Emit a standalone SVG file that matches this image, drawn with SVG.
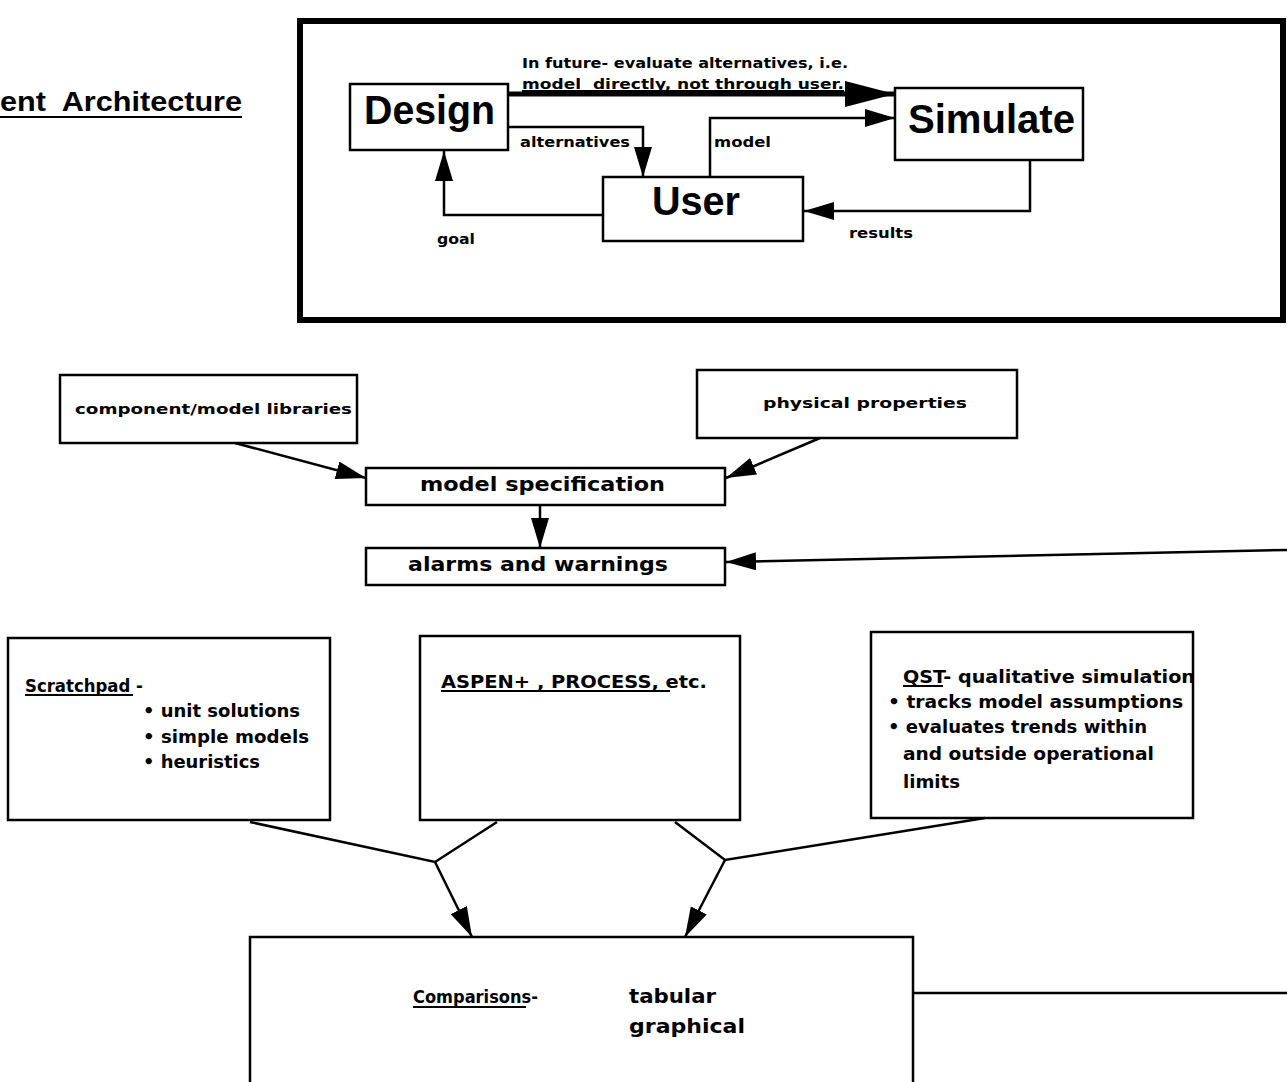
<svg xmlns="http://www.w3.org/2000/svg" width="1287" height="1082" viewBox="0 0 1287 1082">
<style>
.box{fill:#fff;stroke:#000;stroke-width:2.5}
.big{font-family:"Liberation Sans",Arial,sans-serif;font-weight:bold;font-size:40px;fill:#000}
.sm{font-family:"DejaVu Sans","Liberation Sans",sans-serif;font-weight:bold;font-size:14px;fill:#000}
.md{font-family:"DejaVu Sans","Liberation Sans",sans-serif;font-weight:bold;font-size:17px;fill:#000}
.lg{font-family:"DejaVu Sans","Liberation Sans",sans-serif;font-weight:bold;font-size:20px;fill:#000}
.ttl{font-family:"Liberation Sans",Arial,sans-serif;font-weight:bold;font-size:28px;fill:#000}
.c{fill:none;stroke:#000;stroke-width:2.5}
.u{stroke:#000;stroke-width:2}
</style>
<defs>
<marker id="ah" markerUnits="userSpaceOnUse" markerWidth="30" markerHeight="18" refX="30" refY="9" orient="auto" viewBox="0 0 30 18">
<path d="M0,0 L30,9 L0,18 z" fill="#000"/>
</marker>
<marker id="ahb" markerUnits="userSpaceOnUse" markerWidth="50" markerHeight="26" refX="50" refY="13" orient="auto" viewBox="0 0 50 26">
<path d="M0,0 L50,13 L0,26 z" fill="#000"/>
</marker>
</defs>

<g id="title">
<text class="ttl" x="0" y="111" textLength="242" lengthAdjust="spacingAndGlyphs" xml:space="preserve">ent  Architecture</text>
<line class="u" x1="0" y1="117" x2="242" y2="117"/>
</g>

<g id="frame">
<rect x="300" y="21" width="983" height="299" fill="none" stroke="#000" stroke-width="6"/>
</g>

<g id="connectors">
<line x1="508" y1="94" x2="895" y2="94" stroke="#000" stroke-width="5" marker-end="url(#ahb)"/>
<polyline class="c" points="710,177 710,118 895,118" marker-end="url(#ah)"/>
<polyline class="c" points="508,127 643,127 643,177" marker-end="url(#ah)"/>
<polyline class="c" points="603,215 444,215 444,151" marker-end="url(#ah)"/>
<polyline class="c" points="1030,160 1030,211 804,211" marker-end="url(#ah)"/>
<line class="c" x1="235" y1="443" x2="366" y2="478" marker-end="url(#ah)"/>
<line class="c" x1="820" y1="438" x2="726" y2="478" marker-end="url(#ah)"/>
<line class="c" x1="540" y1="505" x2="540" y2="548" marker-end="url(#ah)"/>
<line class="c" x1="1287" y1="550" x2="726" y2="562" marker-end="url(#ah)"/>
<polyline class="c" points="250,822 435,862 497,822"/>
<line class="c" x1="435" y1="862" x2="472" y2="937" marker-end="url(#ah)"/>
<polyline class="c" points="675,822 725,860 985,818"/>
<line class="c" x1="725" y1="860" x2="685" y2="937" marker-end="url(#ah)"/>
<line class="c" x1="913" y1="993" x2="1287" y2="993"/>
</g>

<g id="labels">
<text class="sm" x="522" y="68" textLength="326" lengthAdjust="spacingAndGlyphs">In future- evaluate alternatives, i.e.</text>
<text class="sm" x="522" y="89" textLength="322" lengthAdjust="spacingAndGlyphs" xml:space="preserve">model  directly, not through user.</text>
<line class="u" x1="522" y1="91" x2="844" y2="91"/>
<text class="sm" x="520" y="147" textLength="110" lengthAdjust="spacingAndGlyphs">alternatives</text>
<text class="sm" x="714" y="147" textLength="57" lengthAdjust="spacingAndGlyphs">model</text>
<text class="sm" x="437" y="244" textLength="38" lengthAdjust="spacingAndGlyphs">goal</text>
<text class="sm" x="849" y="238" textLength="64" lengthAdjust="spacingAndGlyphs">results</text>
</g>

<g id="design">
<rect class="box" x="350" y="84" width="158" height="66"/>
<text class="big" x="364" y="124" textLength="131" lengthAdjust="spacingAndGlyphs">Design</text>
</g>

<g id="simulate">
<rect class="box" x="895" y="88" width="188" height="72"/>
<text class="big" x="908" y="133" textLength="167" lengthAdjust="spacingAndGlyphs">Simulate</text>
</g>

<g id="user">
<rect class="box" x="603" y="177" width="200" height="64"/>
<text class="big" x="652" y="215" textLength="88" lengthAdjust="spacingAndGlyphs">User</text>
</g>

<g id="libraries">
<rect class="box" x="60" y="375" width="297" height="68"/>
<text class="sm" x="75" y="414" textLength="277" lengthAdjust="spacingAndGlyphs">component/model libraries</text>
</g>

<g id="physical">
<rect class="box" x="697" y="370" width="320" height="68"/>
<text class="sm" x="763" y="408" textLength="204" lengthAdjust="spacingAndGlyphs">physical properties</text>
</g>

<g id="modelspec">
<rect class="box" x="366" y="468" width="359" height="37"/>
<text class="lg" x="420" y="491" textLength="245" lengthAdjust="spacingAndGlyphs">model specification</text>
</g>

<g id="alarms">
<rect class="box" x="366" y="548" width="359" height="37"/>
<text class="lg" x="408" y="571" textLength="260" lengthAdjust="spacingAndGlyphs">alarms and warnings</text>
</g>

<g id="scratchpad">
<rect class="box" x="8" y="638" width="322" height="182"/>
<text class="md" x="25" y="692" textLength="118" lengthAdjust="spacingAndGlyphs" xml:space="preserve">Scratchpad -</text>
<line class="u" x1="25" y1="695" x2="133" y2="695"/>
<text class="md" x="143" y="717" textLength="157" lengthAdjust="spacingAndGlyphs">• unit solutions</text>
<text class="md" x="143" y="743" textLength="166" lengthAdjust="spacingAndGlyphs">• simple models</text>
<text class="md" x="143" y="768" textLength="117" lengthAdjust="spacingAndGlyphs">• heuristics</text>
</g>

<g id="aspen">
<rect class="box" x="420" y="636" width="320" height="184"/>
<text class="md" x="441" y="688" textLength="266" lengthAdjust="spacingAndGlyphs">ASPEN+ , PROCESS, etc.</text>
<line class="u" x1="441" y1="691" x2="670" y2="691"/>
</g>

<g id="qst">
<text class="md" x="903" y="683" textLength="292" lengthAdjust="spacingAndGlyphs">QST- qualitative simulation</text>
<line class="u" x1="903" y1="686" x2="943" y2="686"/>
<text class="md" x="888" y="708" textLength="295" lengthAdjust="spacingAndGlyphs">• tracks model assumptions</text>
<text class="md" x="888" y="733" textLength="259" lengthAdjust="spacingAndGlyphs">• evaluates trends within</text>
<text class="md" x="903" y="760" textLength="251" lengthAdjust="spacingAndGlyphs">and outside operational</text>
<text class="md" x="903" y="788" textLength="57" lengthAdjust="spacingAndGlyphs">limits</text>
<rect x="871" y="632" width="322" height="186" fill="none" stroke="#000" stroke-width="2.5"/>
</g>

<g id="comparisons">
<rect class="box" x="250" y="937" width="663" height="160"/>
<text class="md" x="413" y="1003" textLength="125" lengthAdjust="spacingAndGlyphs">Comparisons-</text>
<line class="u" x1="413" y1="1007" x2="526" y2="1007"/>
<text class="lg" x="629" y="1003" textLength="87" lengthAdjust="spacingAndGlyphs">tabular</text>
<text class="lg" x="629" y="1033" textLength="116" lengthAdjust="spacingAndGlyphs">graphical</text>
</g>
</svg>
